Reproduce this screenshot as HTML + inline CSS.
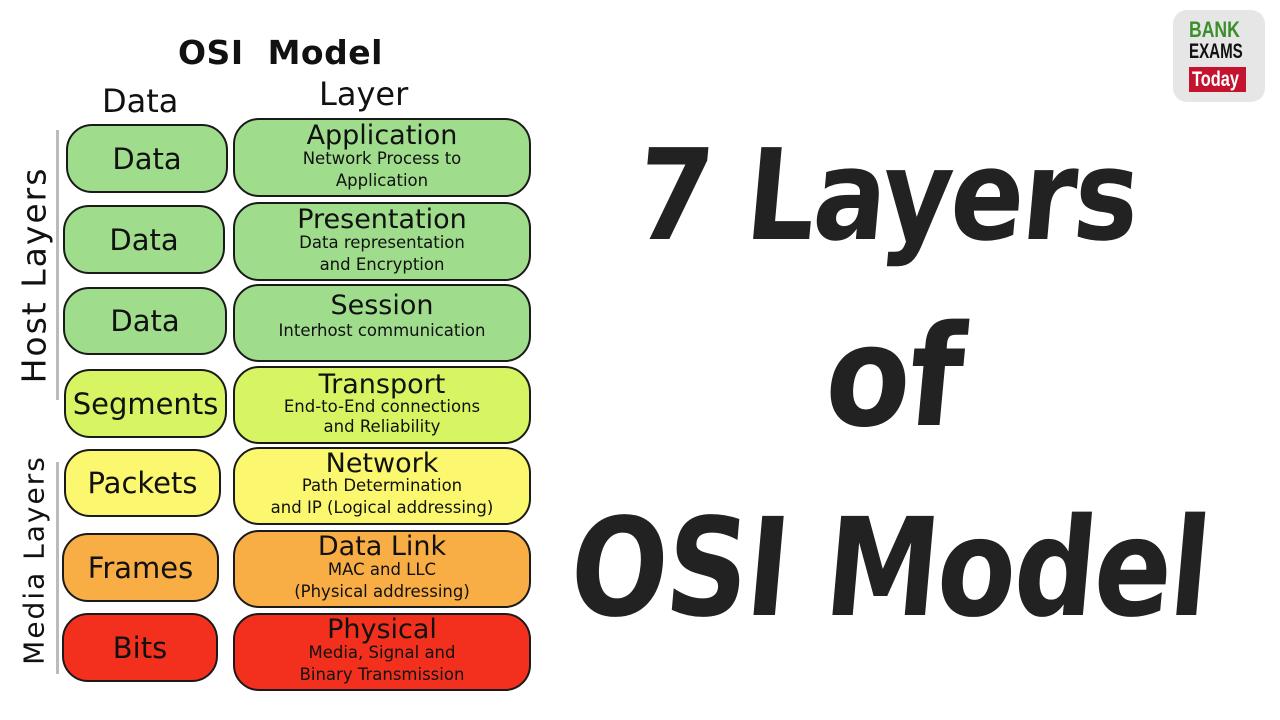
<!DOCTYPE html>
<html><head><meta charset="utf-8"><style>
body{margin:0;width:1280px;height:720px;background:#fff;position:relative;overflow:hidden;font-family:"DejaVu Sans","Liberation Sans",sans-serif;color:#111}
.b{position:absolute;border:2px solid #1a1a1a;border-radius:26px;box-sizing:border-box;display:flex;flex-direction:column;align-items:center;justify-content:center;text-align:center}
.l{font-size:29px;}
.t{font-size:27px;line-height:24px}
.s{font-size:16.5px;line-height:22px}
.g{background:#9fdc8c}.lm{background:#d7f562}.y{background:#fbf86f}.o{background:#f9ad45}.r{background:#f3301d}
.abs{position:absolute;white-space:nowrap}
.big{position:absolute;font-family:"DejaVu Sans",sans-serif;font-weight:bold;color:#222;white-space:nowrap;transform-origin:left top;letter-spacing:-2px}
</style></head><body>
<div class="abs" style="left:178px;top:33px;font-size:33px;font-weight:bold;letter-spacing:0.5px">OSI&nbsp; Model</div>
<div class="abs" style="left:102px;top:82px;font-size:32px">Data</div>
<div class="abs" style="left:319px;top:75px;font-size:32px">Layer</div>

<div class="abs" style="left:56px;top:130px;width:3px;height:270px;background:#bbb"></div>
<div class="abs" style="left:56px;top:462px;width:3px;height:212px;background:#bbb"></div>
<div class="abs" style="left:34px;top:275px;font-size:33px;letter-spacing:2px;transform:translate(-50%,-50%) rotate(-90deg)">Host Layers</div>
<div class="abs" style="left:34px;top:560px;font-size:28px;letter-spacing:2px;transform:translate(-50%,-50%) rotate(-90deg)">Media Layers</div>

<div class="b g" style="left:66px;top:124px;width:162px;height:69px"><span class="l">Data</span></div>
<div class="b g" style="left:63px;top:205px;width:162px;height:69px"><span class="l">Data</span></div>
<div class="b g" style="left:63px;top:287px;width:164px;height:68px"><span class="l">Data</span></div>
<div class="b lm" style="left:64px;top:369px;width:163px;height:69px"><span class="l">Segments</span></div>
<div class="b y" style="left:64px;top:449px;width:157px;height:68px"><span class="l">Packets</span></div>
<div class="b o" style="left:62px;top:533px;width:157px;height:69px"><span class="l">Frames</span></div>
<div class="b r" style="left:62px;top:613px;width:156px;height:69px"><span class="l">Bits</span></div>

<div class="b g" style="left:233px;top:118px;width:298px;height:79px"><span class="t">Application</span><span class="s">Network Process to<br>Application</span></div>
<div class="b g" style="left:233px;top:202px;width:298px;height:79px"><span class="t">Presentation</span><span class="s">Data representation<br>and Encryption</span></div>
<div class="b g" style="left:233px;top:284px;width:298px;height:78px;justify-content:flex-start;padding-top:6px"><span class="t" style="line-height:28px">Session</span><span class="s">Interhost communication</span></div>
<div class="b lm" style="left:233px;top:366px;width:298px;height:78px"><span class="t">Transport</span><span class="s" style="line-height:20px">End-to-End connections<br>and Reliability</span></div>
<div class="b y" style="left:233px;top:447px;width:298px;height:78px"><span class="t" style="line-height:22px">Network</span><span class="s">Path Determination<br>and IP (Logical addressing)</span></div>
<div class="b o" style="left:233px;top:530px;width:298px;height:78px"><span class="t">Data Link</span><span class="s">MAC and LLC<br>(Physical addressing)</span></div>
<div class="b r" style="left:233px;top:613px;width:298px;height:78px"><span class="t">Physical</span><span class="s">Media, Signal and<br>Binary Transmission</span></div>

<div class="big" style="left:644px;top:122px;font-size:126px;transform:scaleX(0.86) skewX(-6deg)">7 Layers</div>
<div class="big" style="left:834px;top:296px;font-size:140px;transform:scaleX(0.88) skewX(-6deg)">of</div>
<div class="big" style="left:578px;top:490px;font-size:136px;transform:scaleX(0.84) skewX(-6deg)">OSI Model</div>

<div class="abs" style="left:1173px;top:10px;width:92px;height:92px;border-radius:14px;background:#e6e6e6"></div>
<div class="abs" style="left:1189px;top:17px;font-family:'Liberation Sans',sans-serif;font-weight:bold;font-size:22px;color:#3a8f2a;transform:scaleX(.8);transform-origin:left">BANK</div>
<div class="abs" style="left:1189px;top:40px;font-family:'Liberation Sans',sans-serif;font-weight:bold;font-size:21px;color:#111;transform:scaleX(.72);transform-origin:left">EXAMS</div>
<div class="abs" style="left:1189px;top:67px;width:57px;height:25px;background:#c4122f"></div>
<div class="abs" style="left:1192px;top:68px;font-family:'Liberation Sans',sans-serif;font-weight:bold;font-size:21px;color:#fff;transform:scaleX(.78);transform-origin:left">Today</div>
</body></html>
